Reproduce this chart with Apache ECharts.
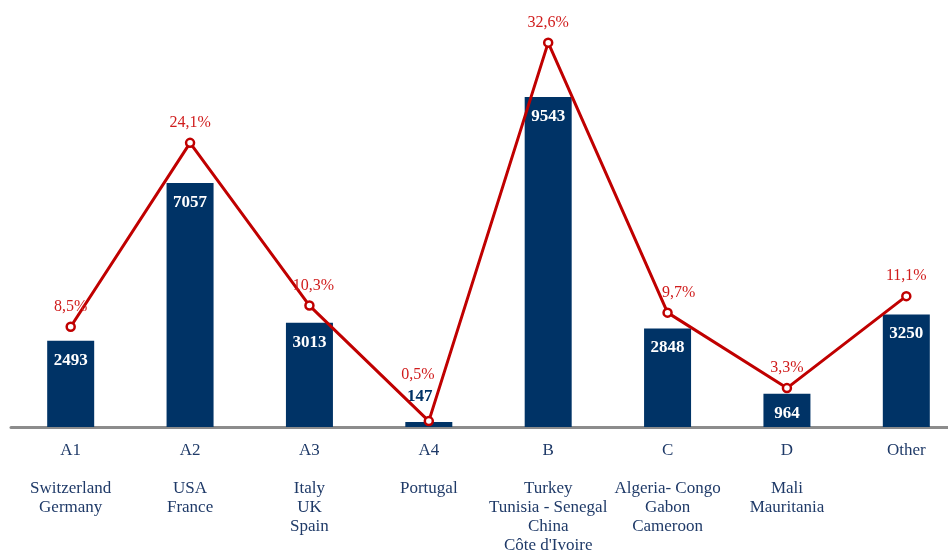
<!DOCTYPE html>
<html>
<head>
<meta charset="utf-8">
<script src="https://cdn.jsdelivr.net/npm/echarts@6/dist/echarts.min.js"></script>
<style>
html,body{margin:0;padding:0;background:#fff;}
#chart{width:948px;height:552px;}
</style>
</head>
<body>
<div id="chart"></div>
<script>
var categories = ['A1', 'A2', 'A3', 'A4', 'B', 'C', 'D', 'Other'];
var countries = ['Switzerland\nGermany', 'USA\nFrance', 'Italy\nUK\nSpain', 'Portugal',
  'Turkey\nTunisia - Senegal\nChina\nC\u00f4te d\'Ivoire', 'Algeria- Congo\nGabon\nCameroon',
  'Mali\nMauritania', ''];
var volumes = [2493, 7057, 3013, 147, 9543, 2848, 964, 3250];
var shares = [8.5, 24.1, 10.3, 0.5, 32.6, 9.7, 3.3, 11.1];

var serif = '"Liberation Serif", "DejaVu Serif", serif';
var navy = '#003366';
var red = '#c00000';

var barData = volumes.map(function (v, i) {
  if (v < 500) {
    return { value: v, label: { position: 'top', color: navy, distance: 17, offset: [-9, 0] } };
  }
  return v;
});
var lineData = shares.map(function (v, i) {
  var item = { value: v };
  if (categories[i] === 'A4') item.label = { distance: 33, offset: [-11, 0] };
  if (categories[i] === 'C') item.label = { offset: [11, 0] };
  if (categories[i] === 'A3') item.label = { offset: [4, 0] };
  return item;
});

var chart = echarts.init(document.getElementById('chart'));
chart.setOption({
  animation: false,
  backgroundColor: '#ffffff',
  grid: { left: 11, top: 12, right: -18, bottom: 125, containLabel: false, outerBoundsMode: 'none' },
  xAxis: {
    type: 'category',
    data: categories,
    axisLine: { show: true, lineStyle: { color: '#8c8c8c', width: 3 } },
    axisTick: { show: false },
    axisLabel: {
      interval: 0,
      margin: 14,
      color: '#1f3a68',
      fontFamily: serif,
      fontSize: 17,
      lineHeight: 19,
      formatter: function (v, i) {
        return v + '\n\n' + countries[i];
      }
    }
  },
  yAxis: [
    { type: 'value', min: 0, max: 12000, show: false, splitLine: { show: false } },
    { type: 'value', min: 0, max: 35.2, show: false, splitLine: { show: false } }
  ],
  series: [
    {
      type: 'bar',
      data: barData,
      barWidth: 47,
      itemStyle: { color: navy },
      label: {
        show: true,
        position: 'insideTop',
        distance: 11,
        color: '#ffffff',
        fontFamily: serif,
        fontWeight: 'bold',
        fontSize: 17
      },
      z: 2
    },
    {
      type: 'line',
      yAxisIndex: 1,
      data: lineData,
      symbol: 'circle',
      symbolSize: 8,
      lineStyle: { color: red, width: 3 },
      itemStyle: { color: '#ffffff', borderColor: red, borderWidth: 2.5 },
      label: {
        show: true,
        position: 'top',
        distance: 7,
        color: '#d01c1c',
        fontFamily: serif,
        fontSize: 16,
        formatter: function (p) {
          return p.value.toFixed(1).replace('.', ',') + '%';
        }
      },
      z: 3
    }
  ]
});
</script>
</body>
</html>
